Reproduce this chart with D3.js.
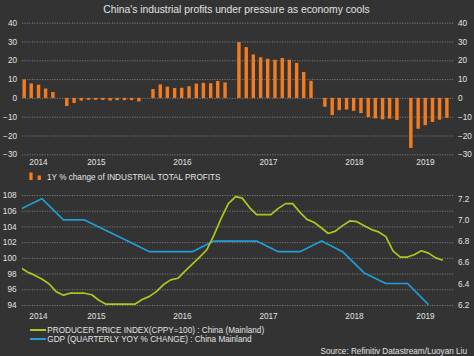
<!DOCTYPE html>
<html><head><meta charset="utf-8">
<script src="https://cdn.jsdelivr.net/npm/d3@7"></script>
<style>
html,body{margin:0;padding:0;background:#333;}
svg{display:block;font-family:"Liberation Sans",Arial,sans-serif;}
</style></head><body>
<svg id="chart" width="474" height="356"></svg>
<script>
// ---------- data ----------
const title = "China's industrial profits under pressure as economy cools";
const months = [
 "2014-08","2014-09","2014-10","2014-11","2014-12",
 "2015-01","2015-02","2015-03","2015-04","2015-05","2015-06","2015-07","2015-08","2015-09","2015-10","2015-11","2015-12",
 "2016-01","2016-02","2016-03","2016-04","2016-05","2016-06","2016-07","2016-08","2016-09","2016-10","2016-11","2016-12",
 "2017-01","2017-02","2017-03","2017-04","2017-05","2017-06","2017-07","2017-08","2017-09","2017-10","2017-11","2017-12",
 "2018-01","2018-02","2018-03","2018-04","2018-05","2018-06","2018-07","2018-08","2018-09","2018-10","2018-11","2018-12",
 "2019-01","2019-02","2019-03","2019-04","2019-05","2019-06","2019-07"];
// 1Y % change of industrial total profits (no January figure)
const profitValues = [
 9.8,7.7,7.0,5.0,3.1,
 null,-4.3,-2.7,-1.4,-1.0,-1.0,-1.1,-1.4,-1.2,-1.2,-1.2,-1.9,
 null,4.7,7.2,6.0,5.3,5.4,6.2,7.6,8.0,7.8,9.0,8.2,
 null,29.7,27.0,23.1,21.6,20.8,20.3,21.2,20.3,18.6,13.8,9.1,
 null,-4.7,-9.1,-6.5,-6.2,-6.9,-8.1,-10.2,-10.9,-11.4,-11.0,-11.7,
 null,-26.6,-16.4,-14.5,-12.8,-11.6,-10.6];
// Producer price index (CPPY=100)
const ppiValues = [
 98.8,98.2,97.8,97.3,96.7,
 95.7,95.25,95.5,95.5,95.5,95.3,94.6,94.1,94.1,94.1,94.1,94.1,
 94.7,95.1,95.7,96.6,97.2,97.4,98.3,99.2,100.1,101.0,102.9,105.0,
 106.9,107.8,107.6,106.4,105.5,105.5,105.5,106.3,106.9,106.9,105.8,104.9,
 104.5,103.8,103.1,103.4,104.1,104.7,104.6,104.1,103.6,103.3,102.7,100.9,
 100.1,100.1,100.4,100.9,100.6,100.0,99.7];
// GDP quarterly YoY % change
const quarters = ["2014Q3","2014Q4","2015Q1","2015Q2","2015Q3","2015Q4","2016Q1","2016Q2","2016Q3","2016Q4",
 "2017Q1","2017Q2","2017Q3","2017Q4","2018Q1","2018Q2","2018Q3","2018Q4","2019Q1","2019Q2"];
const gdpValues = [7.1,7.2,7.0,7.0,6.9,6.8,6.7,6.7,6.7,6.8,6.8,6.8,6.7,6.7,6.8,6.7,6.5,6.4,6.4,6.2];
const yearLabels = ["2014","2015","2016","2017","2018","2019"];
const profitTicks = [40,30,20,10,0,-10,-20,-30];
const ppiTicks = [108,106,104,102,100,98,96,94];
const gdpTicks = [7.2,7.0,6.8,6.6,6.4,6.2];
const legendProfit = "1Y % change of INDUSTRIAL TOTAL PROFITS";
const legendPPI = "PRODUCER PRICE INDEX(CPPY=100) : China (Mainland)";
const legendGDP = "GDP (QUARTERLY YOY % CHANGE) : China Mainland";
const source = "Source: Refinitiv Datastream/Luoyan Liu";

// ---------- styles ----------
const BG="#333333", TXT="#e2e2e2", GRID="#7a7a7a";
const ORANGE="#f47c20", GREEN="#b3c41e", BLUE="#229ed4";
const FS=8.2;

const W=474,H=356;
const svg=d3.select("#chart");
svg.append("rect").attr("width",W).attr("height",H).attr("fill",BG);

const plotL=22, plotR=454;
const parseM=d3.timeParse("%Y-%m");
const x=d3.scaleTime().domain([new Date(2014,7,27),new Date(2019,7,27)]).range([23,453]);
const yTop=d3.scaleLinear().domain([-30,40]).range([154.3,22.7]);
const yL=d3.scaleLinear().domain([94,108]).range([305,195]);
const yR=d3.scaleLinear().domain([6.2,7.2]).range([304.7,198.7]);

svg.append("defs").append("clipPath").attr("id","clip")
  .append("rect").attr("x",plotL).attr("y",0).attr("width",plotR-plotL).attr("height",H);

// title
svg.append("text").attr("x",236.5).attr("y",13.2).attr("text-anchor","middle")
  .attr("fill",TXT).attr("font-size",10.3).text(title);

function grid(scale,ticks){
  const g=svg.append("g").attr("transform",`translate(${plotL},0)`)
    .call(d3.axisLeft(scale).tickValues(ticks).tickSize(-(plotR-plotL)).tickFormat(""));
  g.select(".domain").remove();
  g.selectAll("line").attr("stroke",GRID).attr("stroke-width",1).attr("stroke-dasharray","1.2,1.3");
}
function styleAxis(g){
  g.select(".domain").remove();
  g.selectAll("text").attr("fill",TXT).attr("font-size",FS).attr("font-family",null);
}
function yearAxis(yPos){
  const d0=x.domain()[0], d1=x.domain()[1];
  const mids=yearLabels.map(y=>{
    const s=Math.max(+new Date(+y,0,1),+d0), e=Math.min(+new Date(+y+1,0,1),+d1);
    return new Date((s+e)/2);
  });
  svg.append("g").attr("transform",`translate(0,${yPos})`)
    .call(d3.axisBottom(x).tickValues(mids).tickSize(0).tickPadding(0).tickFormat((d,i)=>yearLabels[i]))
    .call(styleAxis);
}

// ---------- top chart ----------
grid(yTop,profitTicks);
svg.append("g").attr("transform",`translate(${plotL},0)`)
  .call(d3.axisLeft(yTop).tickValues(profitTicks).tickSize(0).tickPadding(5)).call(styleAxis);
svg.append("g").attr("transform",`translate(${plotR},0)`)
  .call(d3.axisRight(yTop).tickValues(profitTicks).tickSize(0).tickPadding(4)).call(styleAxis);

const bw=3.4;
svg.append("g").selectAll("rect")
  .data(months.map((m,i)=>({d:d3.timeMonth.offset(parseM(m),1),v:profitValues[i]})).filter(d=>d.v!==null))
  .join("rect")
  .attr("x",d=>x(d.d)-bw/2).attr("width",bw)
  .attr("y",d=>yTop(Math.max(0,d.v))).attr("height",d=>Math.abs(yTop(d.v)-yTop(0)))
  .attr("fill",ORANGE);

yearAxis(159);

// top legend
svg.append("rect").attr("x",29.3).attr("y",172.5).attr("width",3.3).attr("height",7.5).attr("fill",ORANGE);
svg.append("rect").attr("x",37.6).attr("y",175.5).attr("width",3.3).attr("height",4.5).attr("fill",ORANGE);
svg.append("text").attr("x",47).attr("y",179.8).attr("fill",TXT).attr("font-size",FS).text(legendProfit);

// ---------- bottom chart ----------
grid(yL,ppiTicks);
svg.append("g").attr("transform",`translate(${plotL},0)`)
  .call(d3.axisLeft(yL).tickValues(ppiTicks).tickSize(0).tickPadding(5.5)).call(styleAxis);
svg.append("g").attr("transform",`translate(${plotR},0)`)
  .call(d3.axisRight(yR).tickValues(gdpTicks).tickSize(0).tickPadding(4).tickFormat(d3.format(".1f"))).call(styleAxis);

const ppiData=months.map((m,i)=>({d:d3.timeDay.offset(parseM(m),14),v:ppiValues[i]}));
const gdpData=quarters.map((q,i)=>{
  const yr=+q.slice(0,4), qq=+q.slice(5);
  return {d:new Date(yr,(qq-1)*3+1,15),v:gdpValues[i]};
});
const lines=svg.append("g").attr("clip-path","url(#clip)");
lines.append("path").datum(gdpData)
  .attr("d",d3.line().x(d=>x(d.d)).y(d=>yR(d.v)))
  .attr("fill","none").attr("stroke",BLUE).attr("stroke-width",1.7).attr("stroke-linejoin","round");
lines.append("path").datum(ppiData)
  .attr("d",d3.line().x(d=>x(d.d)).y(d=>yL(d.v)))
  .attr("fill","none").attr("stroke",GREEN).attr("stroke-width",1.7).attr("stroke-linejoin","round");

yearAxis(313);

// bottom legend
svg.append("line").attr("x1",30).attr("x2",46).attr("y1",330).attr("y2",330).attr("stroke",GREEN).attr("stroke-width",2);
svg.append("text").attr("x",47.3).attr("y",333).attr("fill",TXT).attr("font-size",FS).text(legendPPI);
svg.append("line").attr("x1",30).attr("x2",46).attr("y1",339).attr("y2",339).attr("stroke",BLUE).attr("stroke-width",2);
svg.append("text").attr("x",47.3).attr("y",342).attr("fill",TXT).attr("font-size",FS).text(legendGDP);

svg.append("text").attr("x",467).attr("y",353.5).attr("text-anchor","end")
  .attr("fill",TXT).attr("font-size",FS).text(source);
</script>
</body></html>
